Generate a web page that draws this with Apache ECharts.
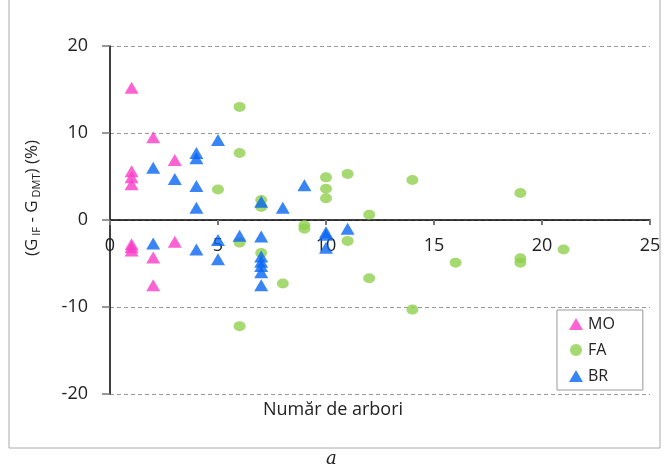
<!DOCTYPE html>
<html><head><meta charset="utf-8">
<script src="https://cdn.jsdelivr.net/npm/echarts@6/dist/echarts.min.js"></script>
<style>html,body{margin:0;padding:0;background:#fff}#c{width:666px;height:470px}</style>
</head><body><div id="c"></div>
<script>
var seriesNames = ['MO', 'FA', 'BR'];
var moData = [[1,15.2],[1,5.6],[1,4.9],[1,4.1],[2,9.5],[3,6.9],[1,-2.8],[1,-3.1],[1,-3.5],[2,-4.3],[2,-7.5],[3,-2.5]];
var faData = [[6,13.0],[6,7.7],[5,3.5],[7,2.3],[7,1.5],[9,-0.6],[9,-1.0],[10,4.9],[10,3.6],[10,2.5],[11,5.3],[12,0.6],[11,-2.4],[6,-2.6],[7,-3.8],[8,-7.3],[12,-6.7],[6,-12.2],[14,4.6],[19,3.1],[16,-4.9],[19,-4.4],[19,-4.9],[21,-3.4],[14,-10.3]];
var brData = [[2,6.0],[3,4.7],[4,7.7],[4,7.1],[4,3.9],[4,1.4],[5,9.2],[5,-2.3],[5,-4.5],[2,-2.7],[4,-3.4],[6,-1.8],[7,-1.9],[7,-4.2],[7,-4.8],[7,-5.3],[7,-6.0],[7,-7.5],[7,2.1],[8,1.4],[9,4.0],[10,-1.4],[10,-1.7],[10,-3.2],[11,-1.0]];
var xTitle = 'Număr de arbori';
var yTitle = '{a|(G}{s| IF}{a| - G}{s| DMT}{a|) (%)}';
var caption = 'a';

var colors = {MO:'#fa3cc8', FA:'#90d04f', BR:'#0866f2'};
var font = '"Open Sans", "DejaVu Sans", sans-serif';
var chart = echarts.init(document.getElementById('c'));
chart.setOption({
  animation: false,
  backgroundColor: '#fff',
  grid: {left: 110, right: 16, top: 46, bottom: 76, containLabel: false},
  xAxis: {
    type: 'value', min: 0, max: 25, interval: 5,
    offset: -174,
    axisLine: {onZero: false, lineStyle: {color: '#000', width: 1.5}},
    axisTick: {show: true, length: 5, lineStyle: {color: '#777', width: 2}},
    axisLabel: {fontSize: 18, color: '#222', fontFamily: font, margin: 17},
    splitLine: {show: false}
  },
  yAxis: {
    type: 'value', min: -20, max: 20, interval: 10,
    axisLine: {show: true, onZero: false, lineStyle: {color: '#000', width: 1.5}},
    axisTick: {show: true, inside: false, length: 8, lineStyle: {color: '#777', width: 1.5}},
    axisLabel: {fontSize: 18, color: '#222', fontFamily: font, margin: 22},
    splitLine: {show: true, lineStyle: {color: '#999', type: [4, 3], width: 1}}
  },
  legend: {
    orient: 'vertical', left: 557, top: 310,
    data: seriesNames,
    itemWidth: 14, itemHeight: 12, itemGap: 10,
    borderColor: '#999', borderWidth: 1, padding: [6, 28, 6, 12],
    textStyle: {fontSize: 16, color: '#222', fontFamily: font}
  },
  graphic: [
    {type: 'rect', shape: {x: 9, y: -2, width: 651, height: 450}, style: {fill: 'none', stroke: '#aaa', lineWidth: 1}, silent: true, z: -1},
    {type: 'text', x: 32, y: 198, rotation: Math.PI / 2,
      style: {text: yTitle, align: 'center', verticalAlign: 'middle', fill: '#222', fontFamily: font, fontSize: 17,
        rich: {
          a: {fontSize: 17, fill: '#222', fontFamily: font},
          s: {fontSize: 11, fill: '#222', fontFamily: font, padding: [9, 0, 0, 0]}
        }}},
    {type: 'text', left: 'center', top: 401, style: {text: xTitle, fontSize: 18, fill: '#222', fontFamily: font}},
    {type: 'text', top: 450, left: 326, style: {text: caption, fontSize: 18, fill: '#222', fontStyle: 'italic', fontFamily: '"DejaVu Serif", serif'}}
  ],
  series: [
    {name: 'MO', type: 'scatter', symbol: 'triangle', symbolSize: [14, 12], itemStyle: {color: colors.MO}, data: moData, z: 3},
    {name: 'FA', type: 'scatter', symbol: 'circle', symbolSize: [12, 10], itemStyle: {color: colors.FA}, data: faData, z: 4},
    {name: 'BR', type: 'scatter', symbol: 'triangle', symbolSize: [14, 12], itemStyle: {color: colors.BR}, data: brData, z: 5}
  ]
});
</script></body></html>
